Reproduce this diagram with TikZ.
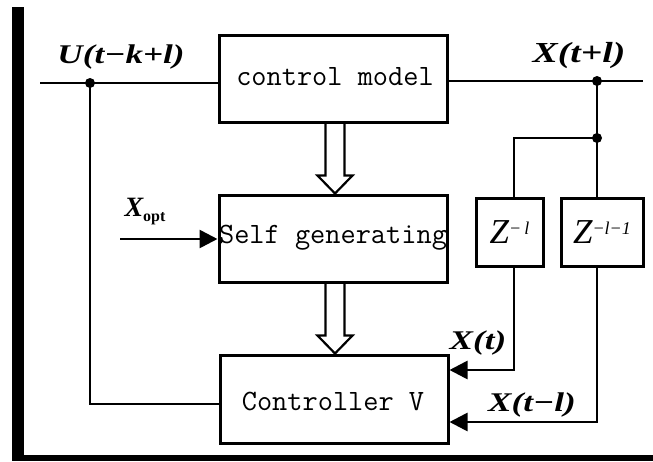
\documentclass[tikz,border=0pt]{standalone}
\usepackage{fontspec}
\setmainfont{Liberation Serif}
\usetikzlibrary{arrows.meta,calc}

\tikzset{
  wire/.style={line width=2.7pt},
  block/.style={draw, line width=3pt, rectangle, inner sep=0pt},
  blocktext/.style={font=\fontsize{29.5}{30}\selectfont\ttfamily, inner sep=0pt},
  sig/.style={font=\fontsize{27}{28}\selectfont\bfseries\itshape, inner sep=0pt},
  tip/.style={-{Triangle[length=18pt,width=18pt]}},
  junction/.style={circle, fill, inner sep=0pt, minimum size=10pt},
  hollow/.style={draw, line width=2.2pt, line join=miter},
}

% open double-line arrow pointing down from #1 to #2
\newcommand\hollowdown[2]{%
  \path[hollow] let \p1=(#1), \p2=(#2) in
    (\x1-9.5pt,\y1) -- (\x1-9.5pt,\y2+18pt) -- (\x1-17.5pt,\y2+18pt) --
    (\x1,\y2) -- (\x1+17.5pt,\y2+18pt) -- (\x1+9.5pt,\y2+18pt) -- (\x1+9.5pt,\y1);}

\newcommand\sigwide[1]{\scalebox{1.3}[1]{#1}}
\newcommand\zdelay[1]{{\fontsize{35}{35}\selectfont\itshape Z}\raisebox{9pt}{\fontsize{18}{18}\selectfont\itshape #1}}

\begin{document}
\begin{tikzpicture}[x=1pt,y=-1pt]
\useasboundingbox (0,0) rectangle (653,461);

% frame bars
\fill (12,7) rectangle (24,461);
\fill (12,455) rectangle (653,461);

% blocks
\node[block, minimum width=228pt, minimum height=87pt] (cm) at (333,78.5) {};
\node[blocktext] (cmt) at (335,77) {control model};
\node[block, minimum width=228pt, minimum height=87pt] (sg) at (333,238.5) {};
\node[blocktext] (sgt) at (333,238) {Self generating};
\node[block, minimum width=228pt, minimum height=88pt] (cv) at (334,399) {};
\node[blocktext] (cvt) at (333,401) {Controller V};

\node[block, minimum width=67pt, minimum height=68pt] (z1) at (509.5,232) {\zdelay{−\,l}};
\node[block, minimum width=82pt, minimum height=68pt] (z2) at (602,232) {\zdelay{−l−1}};

% junctions and free ends
\node[junction] (jU) at (90,83) {};
\node[junction] (jX) at (597,81) {};
\node[junction] (jB) at (597,138) {};
\coordinate (inL) at (40,83);
\coordinate (outR) at (643,81);
\coordinate (opt) at (120,239);
\coordinate (zl) at (514,138);
\coordinate (xt) at (514,370);
\coordinate (xtl) at (597,422);
\coordinate (fb) at (90,404);
\coordinate (ha) at (335,0);

% signal wires
\draw[wire] (inL) -- (jU.center) -- (cm.west |- jU);
\draw[wire] (cm.east |- jX) -- (jX.center) -- (outR);
\draw[wire] (jX.center) -- (jB.center) -- (z2.north -| jB);
\draw[wire] (jB.center) -- (zl) -- (z1.north -| zl);
\draw[wire,tip] (z1.south -| xt) -- (xt) -- (cv.east |- xt);
\draw[wire,tip] (z2.south -| xtl) -- (xtl) -- (cv.east |- xtl);
\draw[wire] (cv.west |- fb) -- (fb) -- (jU.center);
\draw[wire,tip] (opt) -- (sg.west |- opt);

% open arrows between the blocks
\hollowdown{cm.south -| ha}{sg.north -| ha}
\hollowdown{sg.south -| ha}{cv.north -| ha}

% signal labels
\node[sig] (lu) at (121,57) {\sigwide{U(t−k+l)}};
\node[sig, font=\fontsize{29}{30}\selectfont\bfseries\itshape] (lx) at (579,56) {\sigwide{X(t+l)}};
\node[sig] (lxt) at (478,343) {\sigwide{X(t)}};
\node[sig] (lxtl) at (532,405) {\sigwide{X(t−l)}};
\node[inner sep=0pt] (lopt) at (145,212)
  {{\fontsize{28}{28}\selectfont\bfseries\itshape X}\raisebox{-5pt}{\fontsize{16}{16}\selectfont\bfseries opt}};
\end{tikzpicture}
\end{document}
